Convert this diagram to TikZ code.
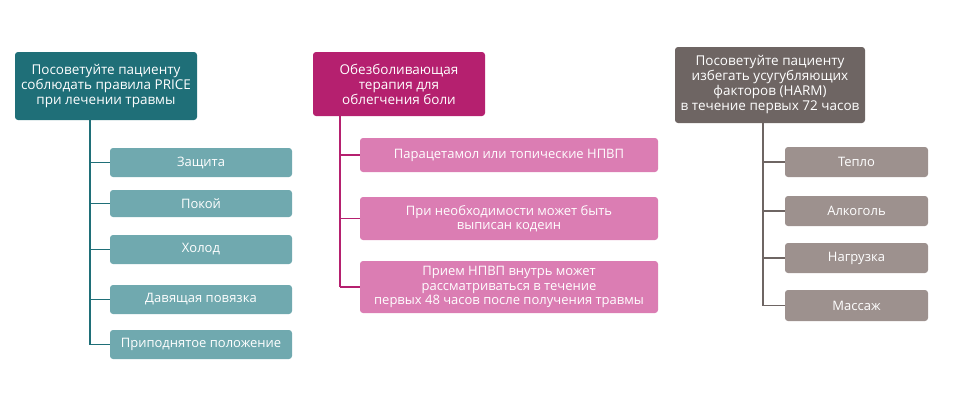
\documentclass[tikz,border=0pt]{standalone}
\usepackage{fontspec}
\setmainfont{Open Sans}
\usetikzlibrary{positioning}
\definecolor{tealdark}{HTML}{1F6F78}
\definecolor{teallight}{HTML}{70A9AF}
\definecolor{magdark}{HTML}{B5206F}
\definecolor{maglight}{HTML}{DB7DB3}
\definecolor{greydark}{HTML}{6E6563}
\definecolor{greylight}{HTML}{9D918E}
\begin{document}
\begin{tikzpicture}[x=1pt, y=-1pt,
    headbox/.style={rounded corners=3pt, text=white, align=center, inner sep=2pt,
      font=\fontsize{13.5}{15}\selectfont},
    itembox/.style={rounded corners=3pt, text=white, align=center, inner sep=2pt,
      font=\fontsize{13}{14.5}\selectfont},
    branch/.style={line width=1.8pt}]

  \useasboundingbox (0,0) rectangle (970,416);

  % Left column: PRICE
  \node[headbox, fill=tealdark, minimum width=182pt, minimum height=68pt] (price) at (106,86)
    {Посоветуйте пациенту\\соблюдать правила PRICE\\при лечении травмы};
  \node[itembox, fill=teallight, minimum width=182pt, minimum height=29pt] (p1) at (201,162.5) {Защита};
  \node[itembox, fill=teallight, minimum width=182pt, minimum height=27pt] (p2) at (201,203.5) {Покой};
  \node[itembox, fill=teallight, minimum width=182pt, minimum height=29pt] (p3) at (201,249.5) {Холод};
  \node[itembox, fill=teallight, minimum width=182pt, minimum height=29pt] (p4) at (201,299.5) {Давящая повязка};
  \node[itembox, fill=teallight, minimum width=182pt, minimum height=29pt] (p5) at (201,344.5) {Приподнятое положение};
  \coordinate (ptop) at (90,120);
  \draw[branch, tealdark] (ptop) -- (ptop |- p5.west);
  \foreach \n in {p1, p2, p3, p4, p5}
    \draw[branch, tealdark] (ptop |- \n.west) -- (\n.west);

  % Middle column: pain relief
  \node[headbox, fill=magdark, minimum width=172pt, minimum height=64pt] (pain) at (399,84)
    {Обезболивающая\\терапия для\\облегчения боли};
  \node[itembox, fill=maglight, minimum width=298pt, minimum height=34pt] (m1) at (509,155)
    {Парацетамол или топические НПВП};
  \node[itembox, fill=maglight, minimum width=298pt, minimum height=43pt] (m2) at (509,218.5)
    {При необходимости может быть\\выписан кодеин};
  \node[itembox, fill=maglight, minimum width=298pt, minimum height=52pt] (m3) at (509,287)
    {Прием НПВП внутрь может\\рассматриваться в течение\\первых 48 часов после получения травмы};
  \coordinate (mtop) at (340,116);
  \draw[branch, magdark] (mtop) -- (mtop |- m3.west);
  \foreach \n in {m1, m2, m3}
    \draw[branch, magdark] (mtop |- \n.west) -- (\n.west);

  % Right column: HARM
  \node[headbox, fill=greydark, minimum width=190pt, minimum height=76pt] (harm) at (770,85)
    {Посоветуйте пациенту\\избегать усугубляющих\\факторов (HARM)\\в течение первых 72 часов};
  \node[itembox, fill=greylight, minimum width=143pt, minimum height=30pt] (h1) at (856.5,162) {Тепло};
  \node[itembox, fill=greylight, minimum width=143pt, minimum height=30pt] (h2) at (856.5,211) {Алкоголь};
  \node[itembox, fill=greylight, minimum width=143pt, minimum height=30pt] (h3) at (856.5,258) {Нагрузка};
  \node[itembox, fill=greylight, minimum width=143pt, minimum height=31pt] (h4) at (856.5,305.5) {Массаж};
  \coordinate (htop) at (763,123);
  \draw[branch, greydark] (htop) -- (htop |- h4.west);
  \foreach \n in {h1, h2, h3, h4}
    \draw[branch, greydark] (htop |- \n.west) -- (\n.west);
\end{tikzpicture}
\end{document}
